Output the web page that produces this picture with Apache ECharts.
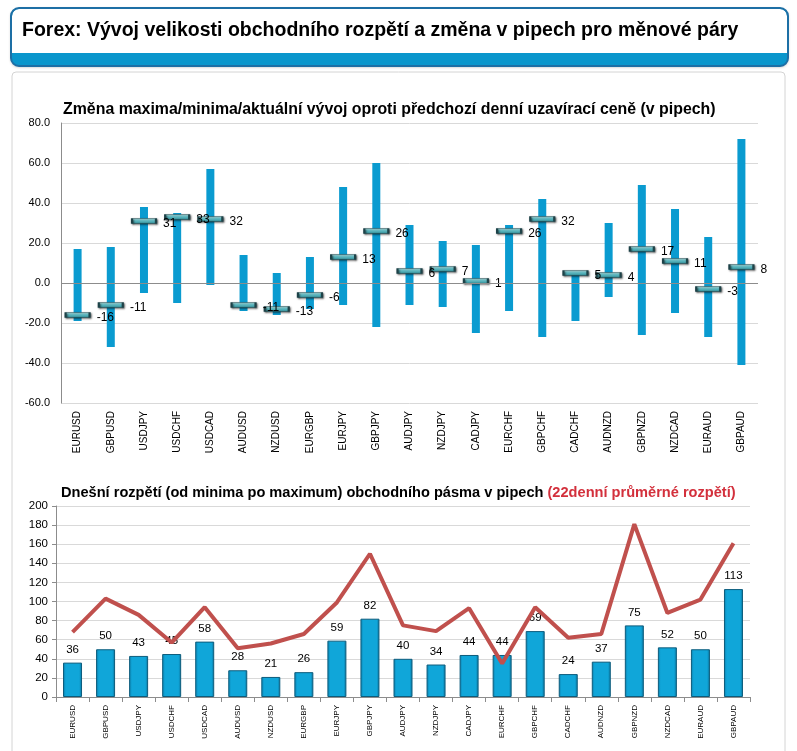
<!DOCTYPE html>
<html>
<head>
<meta charset="utf-8">
<script src="https://cdn.jsdelivr.net/npm/echarts@6/dist/echarts.min.js"></script>
<style>
html,body{margin:0;padding:0;background:#fff;}
#chart{width:797px;height:751px;}
</style>
</head>
<body>
<div id="chart"></div>
<script>
const categories = ['EURUSD','GBPUSD','USDJPY','USDCHF','USDCAD','AUDUSD','NZDUSD','EURGBP','EURJPY','GBPJPY','AUDJPY','NZDJPY','CADJPY','EURCHF','GBPCHF','CADCHF','AUDNZD','GBPNZD','NZDCAD','EURAUD','GBPAUD'];
const highs    = [17, 18, 38, 35, 57, 14, 5, 13, 48, 60, 29, 21, 19, 29, 42, 5, 30, 49, 37, 23, 72];
const lows     = [-19, -32, -5, -10, -1, -14, -16, -13, -11, -22, -11, -12, -25, -14, -27, -19, -7, -26, -15, -27, -41];
const currents = [-16, -11, 31, 33, 32, -11, -13, -6, 13, 26, 6, 7, 1, 26, 32, 5, 4, 17, 11, -3, 8];
const ranges   = [36, 50, 43, 45, 58, 28, 21, 26, 59, 82, 40, 34, 44, 44, 69, 24, 37, 75, 52, 50, 113];
const avg22    = [68, 103, 86, 57, 94, 51, 56, 66, 99, 150, 75, 69, 93, 35, 94, 62, 66, 181, 88, 102, 161];

const FONT = "'Liberation Sans', Arial, sans-serif";
const chart = echarts.init(document.getElementById('chart'));

const rangeData = categories.map((c, i) => [i, lows[i], highs[i]]);
const curData = categories.map((c, i) => [i, currents[i]]);

chart.setOption({
  animation: false,
  textStyle: {fontFamily: FONT},
  graphic: [
    {type: 'rect', z: 0, shape: {x: 12, y: 72, width: 773, height: 700, r: 4},
     style: {fill: '#fff', stroke: '#d4d4d4', lineWidth: 1}},
    {type: 'rect', z: 1, shape: {x: 11, y: 8, width: 777, height: 58, r: 8},
     style: {fill: '#0a96cc', shadowBlur: 3, shadowColor: 'rgba(0,0,0,0.3)', shadowOffsetY: 1}},
    {type: 'rect', z: 2, shape: {x: 12, y: 9, width: 775, height: 44, r: [7, 7, 0, 0]},
     style: {fill: '#fff'}},
    {type: 'rect', z: 3, shape: {x: 11, y: 8, width: 777, height: 58, r: 8},
     style: {fill: 'none', stroke: '#1d6fa5', lineWidth: 2}},
    {type: 'text', z: 4, left: 22, top: 21,
     style: {text: 'Forex: Vývoj velikosti obchodního rozpětí a změna v pipech pro měnové páry',
             font: 'bold 19.5px ' + FONT, fill: '#000'}},
    {type: 'text', z: 4, left: 63, top: 102,
     style: {text: 'Změna maxima/minima/aktuální vývoj oproti předchozí denní uzavírací ceně (v pipech)',
             font: 'bold 15.9px ' + FONT, fill: '#000'}},
    {type: 'text', z: 4, left: 61, top: 485,
     style: {rich: {a: {font: 'bold 14.6px ' + FONT, fill: '#000'}, b: {font: 'bold 14.6px ' + FONT, fill: '#d3303c'}},
             text: '{a|Dnešní rozpětí (od minima po maximum) obchodního pásma v pipech }{b|(22denní průměrné rozpětí)}'}}
  ],
  grid: [
    {left: 61, right: 39, top: 123, bottom: 348},
    {left: 56, right: 47, top: 506, bottom: 54}
  ],
  xAxis: [
    {type: 'category', gridIndex: 0, data: categories,
     axisLine: {show: false}, axisTick: {show: false},
     axisLabel: {rotate: 90, fontSize: 10, color: '#000', margin: 8, interval: 0}},
    {type: 'category', gridIndex: 1, data: categories,
     axisLine: {show: true, lineStyle: {color: '#8c8c8c'}},
     axisTick: {show: true, length: 5, lineStyle: {color: '#8c8c8c'}},
     axisLabel: {rotate: 90, fontSize: 8, color: '#000', margin: 8, interval: 0}}
  ],
  yAxis: [
    {type: 'value', gridIndex: 0, min: -60, max: 80, interval: 20,
     axisLine: {show: true, lineStyle: {color: '#8c8c8c'}}, axisTick: {show: false},
     axisLabel: {fontSize: 11, color: '#000', margin: 11, formatter: v => v.toFixed(1)},
     splitLine: {lineStyle: {color: '#d9d9d9'}}},
    {type: 'value', gridIndex: 1, min: 0, max: 200, interval: 20,
     axisLine: {show: true, lineStyle: {color: '#8c8c8c'}},
     axisTick: {show: true, length: 4, lineStyle: {color: '#8c8c8c'}},
     axisLabel: {fontSize: 11.5, color: '#000', margin: 8},
     splitLine: {lineStyle: {color: '#d9d9d9'}}}
  ],
  series: [
    {type: 'custom', xAxisIndex: 0, yAxisIndex: 0, data: rangeData, z: 2,
     renderItem: function (params, api) {
       const lo = api.coord([api.value(0), api.value(1)]);
       const hi = api.coord([api.value(0), api.value(2)]);
       return {type: 'rect', shape: {x: hi[0] - 4, y: hi[1], width: 8, height: lo[1] - hi[1]},
               style: {fill: '#0a9bd0'}};
     },
     markLine: {silent: true, symbol: 'none', label: {show: false},
                lineStyle: {color: '#8c8c8c', type: 'solid', width: 1},
                data: [{yAxis: 0}]}},
    {type: 'scatter', xAxisIndex: 0, yAxisIndex: 0, data: curData, z: 3,
     symbol: 'rect', symbolSize: [24, 5],
     itemStyle: {
       color: new echarts.graphic.LinearGradient(0, 0, 0, 1, [
         {offset: 0, color: '#c4f2f4'}, {offset: 0.45, color: '#62c0c8'}, {offset: 1, color: '#2e8791'}]),
       borderColor: '#1d4248', borderWidth: 1,
       shadowBlur: 2, shadowColor: 'rgba(0,0,0,0.55)', shadowOffsetX: 1, shadowOffsetY: 1, opacity: 1},
     label: {show: true, position: 'right', distance: 6, offset: [0, 3], fontSize: 12, color: '#000',
             formatter: p => p.value[1]}},
    {type: 'bar', xAxisIndex: 1, yAxisIndex: 1, data: ranges, barWidth: 19, z: 2,
     itemStyle: {
       color: new echarts.graphic.LinearGradient(0, 0, 1, 0, [
         {offset: 0, color: '#0b7fac'}, {offset: 0.15, color: '#10a6d9'}, {offset: 0.85, color: '#10a6d9'}, {offset: 1, color: '#0a739c'}]),
       borderColor: '#0d5c7c', borderWidth: 1},
     label: {show: true, position: 'top', distance: 7, fontSize: 11.5, color: '#000'}},
    {type: 'line', xAxisIndex: 1, yAxisIndex: 1, data: avg22, z: 3,
     symbol: 'none', lineStyle: {color: '#c0504d', width: 4}}
  ]
});
</script>
</body>
</html>
